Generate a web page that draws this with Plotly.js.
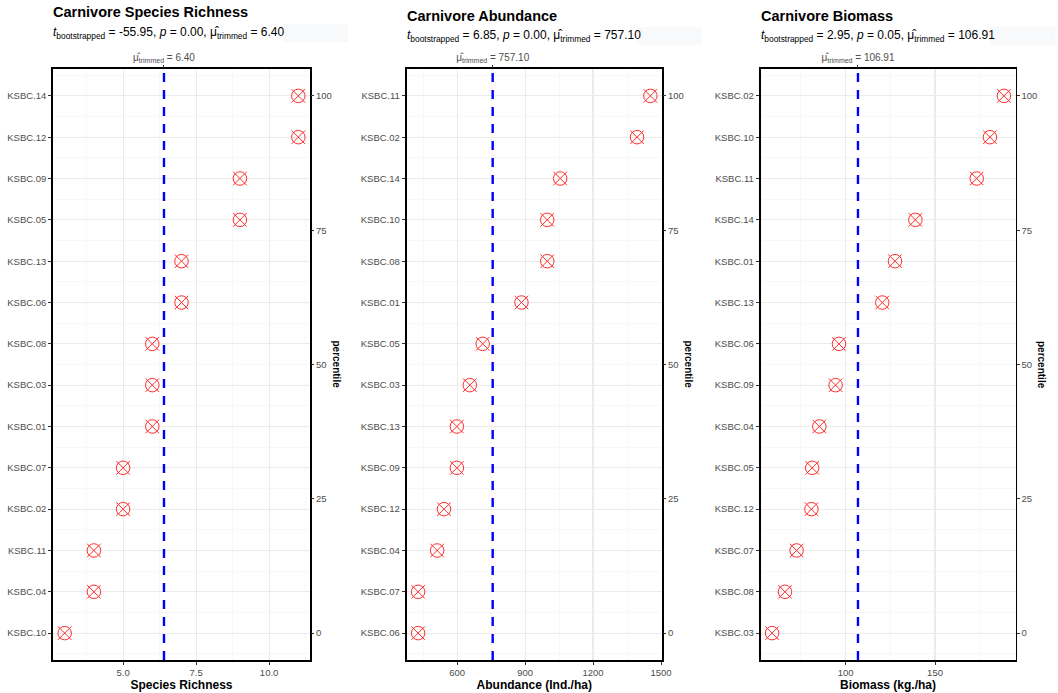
<!DOCTYPE html>
<html>
<head>
<meta charset="utf-8">
<script src="https://cdn.plot.ly/plotly-3.0.1.min.js"></script>
<style>
html,body{margin:0;padding:0;background:#fff;}
#chart{width:1058px;height:693px;}
</style>
</head>
<body>
<div id="chart"></div>
<script>
// ---- DATA (listed bottom to top, i.e. by rank) ----
const sites1 = ['KSBC.10','KSBC.04','KSBC.11','KSBC.02','KSBC.07','KSBC.01','KSBC.03','KSBC.08','KSBC.06','KSBC.13','KSBC.05','KSBC.09','KSBC.12','KSBC.14'];
const richness = [3,4,4,5,5,6,6,6,7,7,9,9,11,11];

const sites2 = ['KSBC.06','KSBC.07','KSBC.04','KSBC.12','KSBC.09','KSBC.13','KSBC.03','KSBC.05','KSBC.01','KSBC.08','KSBC.10','KSBC.14','KSBC.02','KSBC.11'];
const abundance = [428,428,512,542,599,599,656,713,884,998,998,1055,1394,1453];

const sites3 = ['KSBC.03','KSBC.08','KSBC.07','KSBC.12','KSBC.05','KSBC.04','KSBC.09','KSBC.06','KSBC.13','KSBC.01','KSBC.14','KSBC.11','KSBC.10','KSBC.02'];
const biomass = [58.9,66.1,72.6,80.9,81.3,85.3,94.4,96.3,120.5,127.6,139.0,173.3,180.7,188.5];

const panelTitles = ['Carnivore Species Richness','Carnivore Abundance','Carnivore Biomass'];
const xTitles = ['Species Richness','Abundance (Ind./ha)','Biomass (kg./ha)'];
const tStats = ['-55.95','6.85','2.95'];
const pVals = ['0.00','0.00','0.05'];
const trimmedMeans = [6.40, 757.10, 106.91];
const trimmedLabels = ['6.40','757.10','106.91'];
const percentileTicks = [0,25,50,75,100];
const xDtick = [2.5, 300, 50];
const xTickFormat = ['.1f','d','d'];

// ---- LAYOUT CONSTANTS ----
const W = 1058, H = 693;
const panelsPx = [[53,310],[406.5,662],[760.5,1015.5]];
const topPx = 69, botPx = 660;
const titleY = [12,16,16];
const subY = [33,36,36];

const sites = [sites1, sites2, sites3];
const vals = [richness, abundance, biomass];

const traces = [];
const layout = {
  width: W, height: H,
  margin: {l:0,r:0,t:0,b:0},
  paper_bgcolor: '#fff', plot_bgcolor: '#fff',
  showlegend: false,
  font: {family: 'Liberation Sans, Arial, sans-serif', color: '#4D4D4D'},
  annotations: [], shapes: []
};

const yDom = [1 - botPx/H, 1 - topPx/H];
const tickCol = '#333333';
const red = '#FF2D2D';

for (let i = 0; i < 3; i++) {
  const v = vals[i];
  const n = v.length;
  const ranks = v.map((_, k) => k + 1);
  const mn = Math.min(...v), mx = Math.max(...v);
  const pad = (mx - mn) * 0.05;
  const xr = [mn - pad, mx + pad];
  const ypad = (n - 1) * 0.05;
  const yr = [1 - ypad, n + ypad];
  const xDom = [panelsPx[i][0]/W, panelsPx[i][1]/W];

  const xa = i === 0 ? 'x' : 'x' + (i+1);
  const ya = i === 0 ? 'y' : 'y' + (i+1);
  const xt = 'x' + (i+4), yt = 'y' + (i+4);
  const xKey = i === 0 ? 'xaxis' : 'xaxis' + (i+1);
  const yKey = i === 0 ? 'yaxis' : 'yaxis' + (i+1);

  traces.push({
    type:'scatter', mode:'markers', x: v, y: ranks, xaxis: xa, yaxis: ya,
    marker: {symbol:'x-thin-open', size:13.5, color: v.map(() => red), line:{width:1, color: v.map(() => red)}},
    hoverinfo:'skip'
  });
  traces.push({
    type:'scatter', mode:'markers', x: v, y: ranks, xaxis: xa, yaxis: ya,
    marker: {symbol:'circle-open', size:13.5, color: v.map(() => red), line:{width:1, color: v.map(() => red)}},
    hoverinfo:'skip'
  });
  // invisible trace to materialise top / right axes
  traces.push({
    type:'scatter', mode:'markers', x:[trimmedMeans[i]], y:[1], xaxis: xt, yaxis: yt,
    marker:{opacity:0, color:'rgba(0,0,0,0)'}, hoverinfo:'skip'
  });

  layout[xKey] = {
    domain: xDom, anchor: ya, range: xr,
    tickmode:'linear', tick0:0, dtick: xDtick[i], tickformat: xTickFormat[i],
    showgrid:true, gridcolor:'#EBEBEB', gridwidth:1.1,
    minor:{tickmode:'linear', tick0:0, dtick: xDtick[i]/2, showgrid:true, gridcolor:'#F3F3F3', gridwidth:0.6, ticklen:0},
    zeroline:false,
    showline:true, mirror:true, linecolor:'#000', linewidth:1.8,
    ticks:'outside', ticklen:3, tickcolor:tickCol, tickwidth:1,
    tickfont:{size:9.5, color:'#4D4D4D'},
    title:{text:'<b>' + xTitles[i] + '</b>', font:{size:12, color:'#000'}, standoff:3},
    automargin:false, fixedrange:true
  };
  layout[yKey] = {
    domain: yDom, anchor: xa, range: yr,
    tickmode:'array', tickvals: ranks, ticktext: sites[i],
    showgrid:true, gridcolor:'#EBEBEB', gridwidth:1.1,
    minor:{tickmode:'linear', tick0:0.5, dtick:1, showgrid:true, gridcolor:'#F3F3F3', gridwidth:0.6, ticklen:0},
    zeroline:false,
    showline:true, mirror:true, linecolor:'#000', linewidth:1.8,
    ticks:'outside', ticklen:3, tickcolor:tickCol, tickwidth:1,
    tickfont:{size:9.5, color:'#4D4D4D'},
    automargin:false, fixedrange:true
  };
  const tKey = 'xaxis' + (i+4), rKey = 'yaxis' + (i+4);
  layout[tKey] = {
    overlaying: xa, side:'top', anchor: ya, range: xr,
    tickmode:'array', tickvals:[trimmedMeans[i]],
    ticktext:['μ̂<sub>trimmed</sub> = ' + trimmedLabels[i]],
    showgrid:false, zeroline:false, showline:false,
    ticks:'outside', ticklen:3, tickcolor:tickCol, tickwidth:1,
    tickfont:{size:10, color:'#4D4D4D'},
    automargin:false, fixedrange:true
  };
  layout[rKey] = {
    overlaying: ya, side:'right', anchor: xa, range: yr,
    tickmode:'array',
    tickvals: percentileTicks.map(p => 1 + p/100*(n-1)),
    ticktext: percentileTicks.map(p => String(p)),
    showgrid:false, zeroline:false, showline:false,
    ticks:'outside', ticklen:3, tickcolor:tickCol, tickwidth:1,
    tickfont:{size:9.5, color:'#4D4D4D'},
    automargin:false, fixedrange:true
  };

  // trimmed mean line
  layout.shapes.push({
    type:'line', xref: xa, yref: ya + ' domain', x0: trimmedMeans[i], x1: trimmedMeans[i], y0:0, y1:1,
    line:{color:'#0000FF', width:2.4, dash:'9px,8px'}, layer:'above'
  });

  // faint box behind subtitle end
  layout.shapes.push({
    type:'rect', xref:'paper', yref:'paper',
    x0: (panelsPx[i][0] + 230)/W, x1: (panelsPx[i][0] + 295)/W,
    y0: 1 - (subY[i] + 9)/H, y1: 1 - (subY[i] - 9)/H,
    fillcolor:'#F8F9FB', line:{width:0}, layer:'below'
  });

  // titles
  layout.annotations.push({
    xref:'paper', yref:'paper', x: (panelsPx[i][0] - 2)/W, y: 1 - titleY[i]/H,
    xanchor:'left', yanchor:'middle', showarrow:false,
    text:'<b>' + panelTitles[i] + '</b>', font:{size:14.5, color:'#000'}
  });
  layout.annotations.push({
    xref:'paper', yref:'paper', x: (panelsPx[i][0] - 2)/W, y: 1 - subY[i]/H,
    xanchor:'left', yanchor:'middle', showarrow:false,
    text:'<i>t</i><sub>bootstrapped</sub> = ' + tStats[i] + ', <i>p</i> = ' + pVals[i] + ', μ̂<sub>trimmed</sub> = ' + trimmedLabels[i],
    font:{size:12, color:'#000'}
  });
  layout.annotations.push({
    xref:'paper', yref:'paper', x: (panelsPx[i][1] + 26)/W, y: (yDom[0]+yDom[1])/2,
    xanchor:'center', yanchor:'middle', showarrow:false, textangle:90,
    text:'<b>percentile</b>', font:{size:10, color:'#000'}
  });
}

Plotly.newPlot('chart', traces, layout, {displayModeBar:false, staticPlot:true});
</script>
</body>
</html>
